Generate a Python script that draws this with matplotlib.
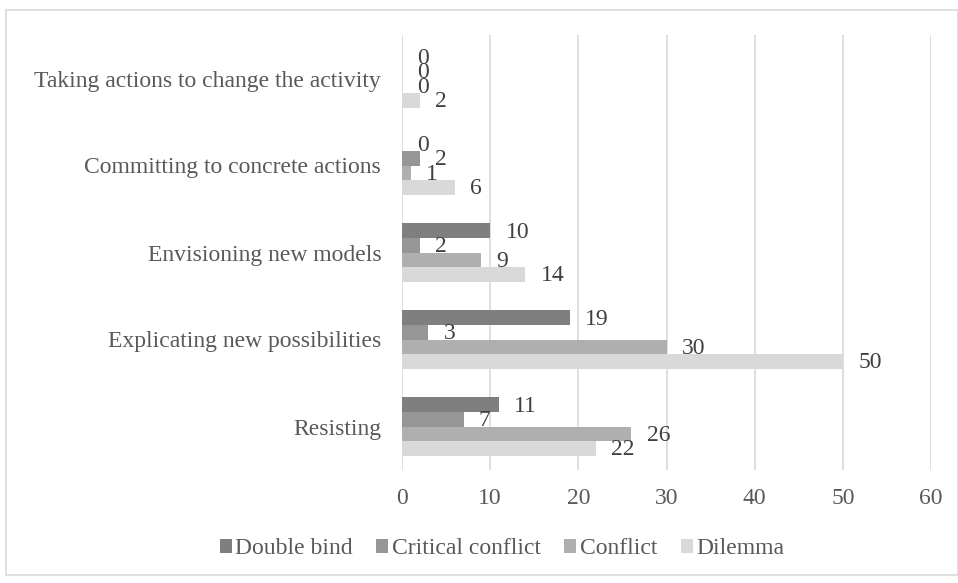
import numpy as np
import matplotlib.pyplot as plt
from matplotlib.patches import Rectangle

plt.rcParams['font.family'] = ['Liberation Serif', 'DejaVu Serif']

categories = ["Resisting", "Explicating new possibilities", "Envisioning new models",
              "Committing to concrete actions", "Taking actions to change the activity"]
double_bind = [11, 19, 10, 0, 0]
critical_conflict = [7, 3, 2, 2, 0]
conflict = [26, 30, 9, 1, 0]
dilemma = [22, 50, 14, 6, 2]

series = [("Double bind", double_bind, "#7f7f7f"),
          ("Critical conflict", critical_conflict, "#969696"),
          ("Conflict", conflict, "#afafaf"),
          ("Dilemma", dilemma, "#d9d9d9")]

fs = 17
fig = plt.figure(figsize=(9.58, 5.83), dpi=100)
ax = fig.add_axes([402 / 958, 1 - 470 / 583, (931 - 402) / 958, 435 / 583])

y = np.arange(len(categories))
h = 0.167
offsets = [1.5, 0.5, -0.5, -1.5]
for (name, vals, col), off in zip(series, offsets):
    bars = ax.barh(y + off * h, vals, height=h, color=col, label=name, zorder=3)
    for b, v in zip(bars, vals):
        ax.annotate(str(v), (b.get_width(), b.get_y() + b.get_height() / 2),
                    xytext=(11, -1), textcoords="offset points", ha="left", va="center",
                    fontsize=fs, color="#404040", zorder=4)

ax.set_xlim(0, 60)
ax.set_ylim(-0.5, len(categories) - 0.5)
ax.set_xticks(range(0, 61, 10))
ax.set_yticks(y)
ax.set_yticklabels(categories)
ax.tick_params(axis="both", length=0, labelsize=fs, labelcolor="#595959")
ax.tick_params(axis="x", pad=13)
ax.tick_params(axis="y", pad=15)
ax.xaxis.grid(True, color="#d9d9d9", linewidth=1.2, zorder=0)
for s in ax.spines.values():
    s.set_visible(False)

fig.legend(loc="center", bbox_to_anchor=(502 / 958, 1 - 549 / 583), ncol=4, frameon=False,
           fontsize=fs, labelcolor="#595959", handlelength=0.5, handleheight=0.5,
           handletextpad=0.15, columnspacing=1.0)

fig.patches.append(Rectangle((6 / 958, 8 / 583), 1 - 6 / 958, 1 - 18 / 583,
                             transform=fig.transFigure, fill=False,
                             edgecolor="#d9d9d9", linewidth=1.2))

fig.savefig("out.png", dpi=100)
